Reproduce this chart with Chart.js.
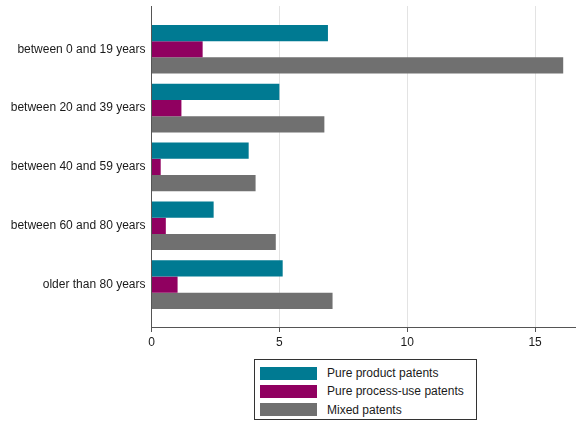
<!DOCTYPE html>
<html lang="en">
<head>
    <meta charset="UTF-8">
    <title>Patents by age group</title>
    <script src="https://cdn.jsdelivr.net/npm/chart.js"></script>
    <style>
        body {
            margin: 0;
            background: #fff;
            font-family: "Liberation Sans", Arial, sans-serif;
        }
        .chart-wrap {
            position: relative;
            width: 576px;
            height: 424px;
        }
        #patentChart {
            position: absolute;
            left: 0;
            top: 0;
        }
        .legend-box {
            position: absolute;
            left: 254px;
            top: 359px;
            width: 223px;
            height: 61px;
            border: 1px solid #333;
            box-sizing: border-box;
            padding: 4px 0 0 5px;
        }
        .legend-item {
            display: flex;
            align-items: center;
            height: 18.3px;
            font-size: 12px;
            color: #1a1a1a;
        }
        .legend-item span.swatch {
            display: inline-block;
            width: 57px;
            height: 13px;
            margin-right: 10px;
        }
    </style>
</head>
<body>
<div class="chart-wrap">
    <canvas id="patentChart" width="576" height="352"></canvas>
    <div class="legend-box" id="legend"></div>
</div>

<script>
    const ageGroups = ["between 0 and 19 years", "between 20 and 39 years", "between 40 and 59 years", "between 60 and 80 years", "older than 80 years"];
    const seriesNames = ["Pure product patents", "Pure process-use patents", "Mixed patents"];
    const productVals = [6.9, 5.0, 3.8, 2.43, 5.13];
    const processVals = [2.0, 1.17, 0.36, 0.56, 1.02];
    const mixedVals = [16.1, 6.76, 4.07, 4.86, 7.08];
    const xTicks = [0, 5, 10, 15];
    const colors = ["#007a92", "#900060", "#707070"];

    // bars sit on a linear index axis so the outer padding can be wider than half a step
    const toPoints = vals => vals.map((v, i) => ({ x: v, y: i }));
    const labelFont = { family: "'Liberation Sans', Arial, sans-serif", size: 12 };

    const ctx = document.getElementById('patentChart').getContext('2d');
    const chart = new Chart(ctx, {
        type: 'bar',
        data: {
            datasets: [
                { label: seriesNames[0], data: toPoints(productVals), backgroundColor: colors[0] },
                { label: seriesNames[1], data: toPoints(processVals), backgroundColor: colors[1] },
                { label: seriesNames[2], data: toPoints(mixedVals), backgroundColor: colors[2] }
            ]
        },
        options: {
            indexAxis: 'y',
            responsive: false,
            animation: false,
            datasets: {
                bar: { categoryPercentage: 0.827, barPercentage: 1.0 }
            },
            layout: { padding: { top: 6, right: 0, left: 0, bottom: 0 } },
            plugins: {
                legend: { display: false },
                tooltip: { enabled: false }
            },
            scales: {
                x: {
                    type: 'linear',
                    min: 0,
                    max: 16.6,
                    afterBuildTicks: s => { s.ticks = xTicks.map(v => ({ value: v })); },
                    afterFit: s => { s.height = 25; s.paddingRight = 0; },
                    grid: {
                        color: '#e3e3e3',
                        tickColor: '#555',
                        tickLength: 5,
                        lineWidth: 1
                    },
                    border: { display: true, color: '#555', width: 1 },
                    ticks: {
                        padding: 3,
                        color: '#1a1a1a',
                        font: labelFont
                    }
                },
                y: {
                    type: 'linear',
                    reverse: true,
                    offset: false,
                    min: -0.735,
                    max: 4.72,
                    afterBuildTicks: s => { s.ticks = ageGroups.map((_, i) => ({ value: i })); },
                    afterFit: s => { s.width = 151.5; s.paddingTop = 0; s.paddingBottom = 0; },
                    grid: { display: false, drawTicks: false },
                    border: { display: true, color: '#555', width: 1 },
                    ticks: {
                        padding: 6,
                        color: '#1a1a1a',
                        font: labelFont,
                        callback: v => ageGroups[v]
                    }
                }
            }
        }
    });

    // legend stacked in a box under the plot
    const legend = document.getElementById('legend');
    chart.data.datasets.forEach(ds => {
        const item = document.createElement('div');
        item.className = 'legend-item';
        const sw = document.createElement('span');
        sw.className = 'swatch';
        sw.style.background = ds.backgroundColor;
        item.appendChild(sw);
        item.appendChild(document.createTextNode(ds.label));
        legend.appendChild(item);
    });
</script>
</body>
</html>
